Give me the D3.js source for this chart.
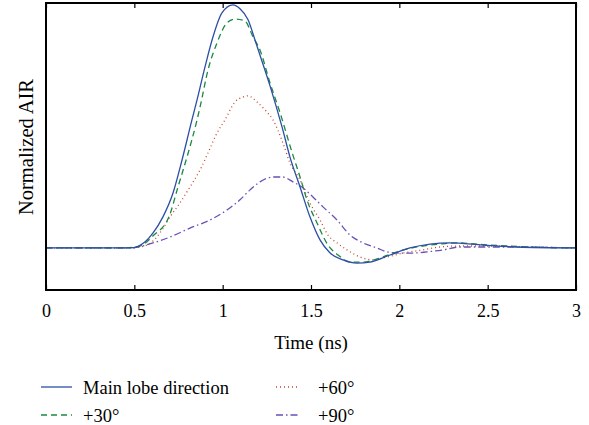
<!DOCTYPE html>
<html>
<head>
<meta charset="utf-8">
<script src="https://cdn.jsdelivr.net/npm/d3@7"></script>
<style>
  body { margin: 0; background: #fff; }
  svg text { font-family: 'Liberation Serif', serif; fill: #000; }
</style>
</head>
<body>
<div id="chart"></div>
<script>
// -- DATA --

xTicks = [0, 0.5, 1, 1.5, 2, 2.5, 3]
seriesNames = ['Main lobe direction', '+30\u00b0', '+60\u00b0', '+90\u00b0']

// time (ns) / normalized AIR
mainT = [0, 0.42, 0.475, 0.56, 0.606, 0.662, 0.719, 0.77, 0.826, 0.855, 0.9, 0.945, 0.996, 1.058, 1.098, 1.143, 1.183, 1.211, 1.268, 1.336, 1.381, 1.438, 1.494, 1.551, 1.608, 1.681, 1.76, 1.834, 1.947, 2.06, 2.174, 2.287, 2.474, 2.666, 3]
mainV = [0, 0, 0, 0.025, 0.062, 0.128, 0.226, 0.362, 0.527, 0.609, 0.745, 0.868, 0.967, 1.0, 0.984, 0.94, 0.856, 0.794, 0.667, 0.498, 0.374, 0.251, 0.128, 0.033, -0.021, -0.049, -0.062, -0.058, -0.029, 0, 0.016, 0.021, 0.012, 0.004, 0]

p30T = [0, 0.42, 0.532, 0.606, 0.696, 0.747, 0.798, 0.855, 0.872, 0.917, 0.968, 1.024, 1.07, 1.126, 1.172, 1.211, 1.268, 1.325, 1.392, 1.438, 1.477, 1.534, 1.596, 1.653, 1.721, 1.794, 1.874, 1.987, 2.1, 2.23, 2.326, 2.474, 2.666, 3]
p30V = [0, 0, 0.008, 0.05, 0.128, 0.251, 0.374, 0.527, 0.58, 0.732, 0.844, 0.926, 0.942, 0.934, 0.868, 0.815, 0.679, 0.556, 0.395, 0.292, 0.198, 0.103, 0.012, -0.029, -0.058, -0.058, -0.045, -0.016, 0.004, 0.016, 0.021, 0.014, 0.006, 0]

p60T = [0, 0.475, 0.532, 0.6, 0.657, 0.702, 0.758, 0.815, 0.872, 0.917, 0.968, 1.013, 1.07, 1.115, 1.143, 1.194, 1.24, 1.285, 1.341, 1.381, 1.438, 1.494, 1.551, 1.596, 1.647, 1.704, 1.777, 1.851, 1.93, 2.021, 2.134, 2.23, 2.332, 2.513, 2.74, 3]
p60V = [0, 0, 0.004, 0.025, 0.074, 0.128, 0.185, 0.251, 0.321, 0.391, 0.473, 0.527, 0.601, 0.621, 0.626, 0.601, 0.568, 0.527, 0.432, 0.35, 0.28, 0.185, 0.115, 0.053, 0.021, -0.008, -0.037, -0.049, -0.037, -0.021, -0.008, 0.004, 0.008, 0.008, 0.004, 0]

p90T = [0, 0.475, 0.606, 0.702, 0.815, 0.928, 1.024, 1.098, 1.155, 1.211, 1.285, 1.341, 1.398, 1.455, 1.511, 1.568, 1.647, 1.721, 1.794, 1.874, 1.93, 2.004, 2.077, 2.157, 2.247, 2.343, 2.57, 3]
p90V = [0, 0, 0.021, 0.045, 0.082, 0.115, 0.156, 0.198, 0.239, 0.272, 0.292, 0.292, 0.272, 0.247, 0.21, 0.169, 0.115, 0.053, 0.021, 0, -0.016, -0.021, -0.021, -0.016, -0.008, 0.004, 0.004, 0]

colors = ['#2b4ea6', '#1a8a3e', '#c4452c', '#6a4fb8']
dashes = [null, '6,4', '1,3', '7,3,1.5,3']

// -- CHART --

width = 589
height = 425
margin = {left: 46, right: 13, top: 3, bottom: 135}
serif = "'Liberation Serif', 'Times New Roman', serif"

var svg = d3.select('#chart').append('svg')
  .attr('width', width)
  .attr('height', height)

var xMap = d3.scaleLinear()
  .domain([0, 3])
  .range([margin.left, width - margin.right])

var yMap = d3.scaleLinear()
  .domain([-0.173, 1.008])
  .range([height - margin.bottom, margin.top])

var series = [
  {name: seriesNames[0], t: mainT, v: mainV},
  {name: seriesNames[1], t: p30T, v: p30V},
  {name: seriesNames[2], t: p60T, v: p60V},
  {name: seriesNames[3], t: p90T, v: p90V}
]

var line = d3.line()
  .x(d => xMap(d[0]))
  .y(d => yMap(d[1]))
  .curve(d3.curveMonotoneX)

// draw back to front so the main lobe sits on top
series.slice().reverse().forEach(function(s) {
  var i = seriesNames.indexOf(s.name)
  svg.append('path')
    .datum(d3.zip(s.t, s.v))
    .attr('d', line)
    .style('fill', 'none')
    .style('stroke', colors[i])
    .style('stroke-width', '1.3px')
    .style('stroke-dasharray', dashes[i])
})

// frame
svg.append('rect')
  .attr('x', xMap(0))
  .attr('y', margin.top)
  .attr('width', xMap(3) - xMap(0))
  .attr('height', height - margin.bottom - margin.top)
  .style('fill', 'none')
  .style('stroke', 'black')
  .style('stroke-width', '1.2px')
  .style('shape-rendering', 'crispEdges')

var xAxis = d3.axisBottom(xMap)
  .tickValues(xTicks)
  .tickSize(-5)
  .tickSizeOuter(0)
  .tickPadding(14)
  .tickFormat(d3.format('~g'))

var gX = svg.append('g')
  .attr('transform', 'translate(0,' + (height - margin.bottom) + ')')
  .call(xAxis)
  .attr('font-family', serif)
  .attr('font-size', 18)
gX.select('.domain').remove()
gX.selectAll('line').style('stroke-width', '1.2px')

var xAxisTop = d3.axisTop(xMap)
  .tickValues(xTicks)
  .tickSize(-5)
  .tickSizeOuter(0)
  .tickFormat('')
var gXTop = svg.append('g')
  .attr('transform', 'translate(0,' + margin.top + ')')
  .call(xAxisTop)
gXTop.select('.domain').remove()
gXTop.selectAll('line').style('stroke-width', '1.2px')

// axis labels
svg.append('text')
  .attr('x', (xMap(0) + xMap(3)) / 2)
  .attr('y', 349)
  .style('text-anchor', 'middle')
  .style('font-family', serif)
  .style('font-size', '19px')
  .text('Time (ns)')

svg.append('text')
  .attr('transform', 'translate(33,147) rotate(-90)')
  .style('text-anchor', 'middle')
  .style('font-family', serif)
  .style('font-size', '20.5px')
  .text('Normalized AIR')

// legend
var legendPos = [[41, 387], [276, 387], [41, 415], [276, 415]]
var lineLen = [31, 23, 31, 23]
var gLegend = svg.append('g')
var order = [0, 2, 1, 3]
order.forEach(function(i, k) {
  var p = legendPos[k]
  gLegend.append('line')
    .attr('x1', p[0])
    .attr('x2', p[0] + lineLen[k])
    .attr('y1', p[1])
    .attr('y2', p[1])
    .style('stroke', colors[i])
    .style('stroke-width', '1.3px')
    .style('stroke-dasharray', dashes[i])
  gLegend.append('text')
    .attr('x', k % 2 == 0 ? 83 : 318)
    .attr('y', p[1] + 7)
    .style('font-family', serif)
    .style('font-size', '18.5px')
    .text(seriesNames[i])
})
</script>
</body>
</html>
